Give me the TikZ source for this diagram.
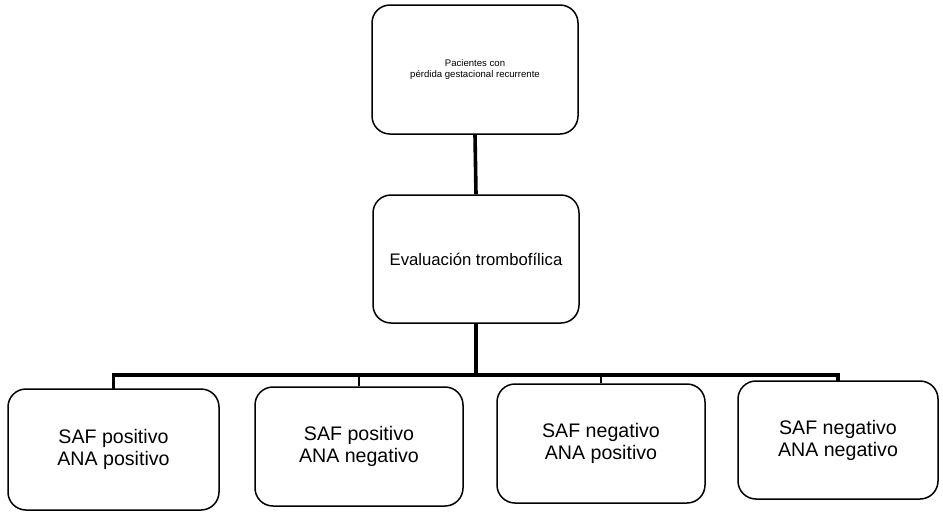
\documentclass[tikz,border=0pt]{standalone}
\usepackage{fontspec}
\setmainfont{Liberation Sans}
\begin{document}
\begin{tikzpicture}[x=1pt,y=-1pt,
  box/.style={draw=black, line width=1.5pt, rounded corners=18pt,
    align=center, inner sep=0pt},
  link/.style={draw=black, line width=3.6pt},
  drop/.style={draw=black, line width=2.4pt}]
\useasboundingbox (0,0) rectangle (943,515);

% top and middle boxes
\node[box, minimum width=206pt, minimum height=129pt,
  font=\fontsize{9.6}{11.5}\selectfont] (pac) at (475,69.5)
  {Pacientes con\\pérdida gestacional recurrente};
\node[box, minimum width=206pt, minimum height=128pt,
  font=\fontsize{16.7}{19}\selectfont] (eval) at (476,259)
  {Evaluación trombofílica};

% result boxes
\tikzset{res/.style={box, font=\fontsize{19.6}{22}\selectfont}}
\node[res, minimum width=211pt, minimum height=121pt] (r1) at (113.5,449.5)
  {SAF positivo\\ANA positivo};
\node[res, minimum width=208pt, minimum height=119pt] (r2) at (359,446.5)
  {SAF positivo\\ANA negativo};
\node[res, minimum width=208pt, minimum height=119pt] (r3) at (601,443.5)
  {SAF negativo\\ANA positivo};
\node[res, minimum width=200pt, minimum height=118pt] (r4) at (838,440)
  {SAF negativo\\ANA negativo};

% connectors
\coordinate (bus) at (476,375);
\draw[link] (pac.south) -- (eval.north);
\draw[link] (eval.south) -- (bus);
\draw[link, line cap=rect] (r1.north) |- (bus) -| (r4.north);
\draw[drop] (r2.north) -- (r2.north |- bus);
\draw[drop] (r3.north) -- (r3.north |- bus);
\end{tikzpicture}
\end{document}
